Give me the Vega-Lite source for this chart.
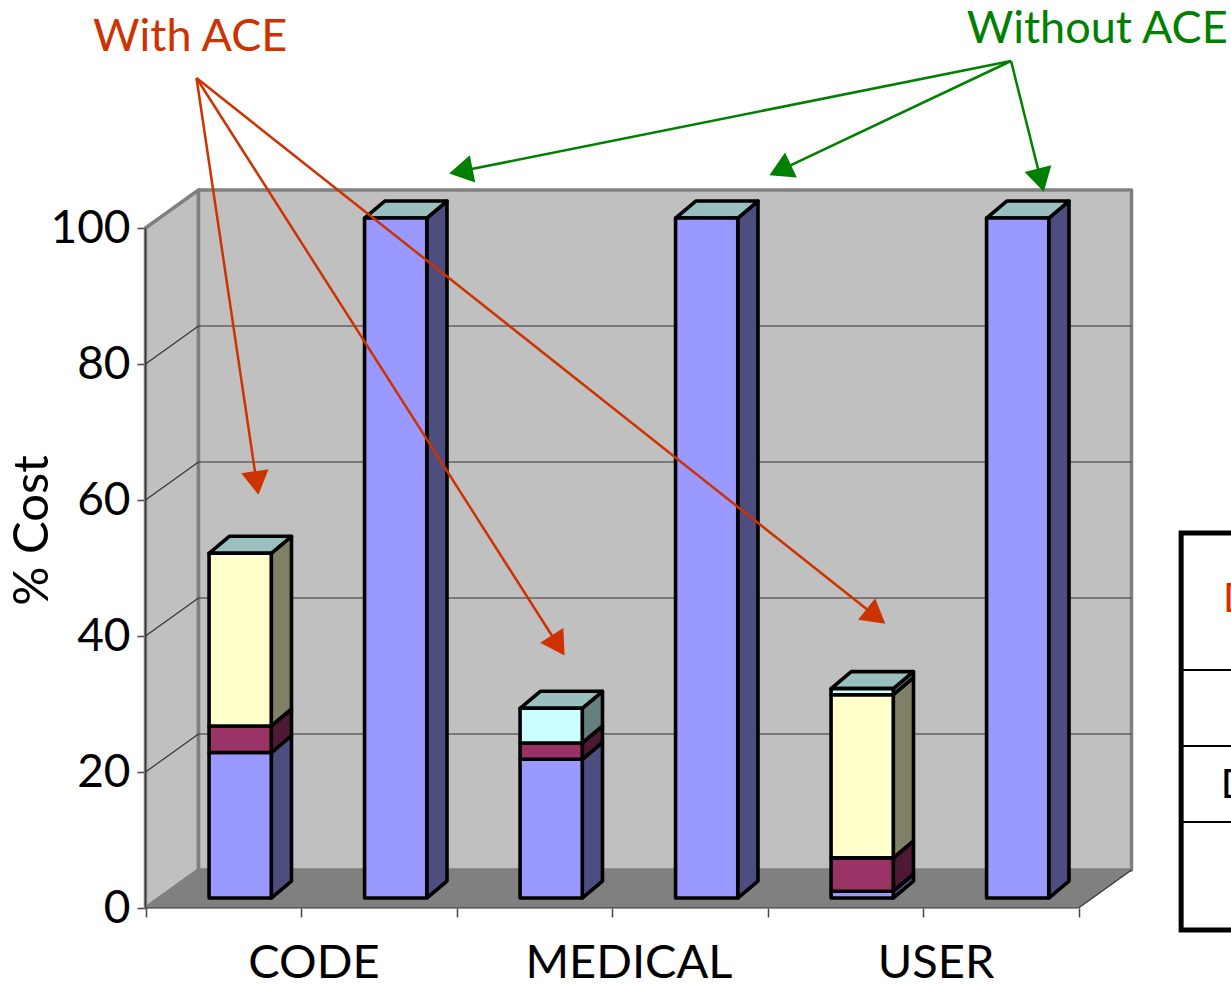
{"$schema":"https://vega.github.io/schema/vega-lite/v6.json","width":1231,"height":985,"padding":0,"autosize":{"type":"none"},"background":"white","config":{"view":{"stroke":null},"font":"Lato"},
"datasets":{
"costs":[
{"category":"CODE","scenario":"With ACE","component":"Segment 1","cost":21.4},
{"category":"CODE","scenario":"With ACE","component":"Segment 2","cost":3.9},
{"category":"CODE","scenario":"With ACE","component":"Segment 3","cost":25.4},
{"category":"CODE","scenario":"Without ACE","component":"Segment 1","cost":100},
{"category":"MEDICAL","scenario":"With ACE","component":"Segment 1","cost":20.4},
{"category":"MEDICAL","scenario":"With ACE","component":"Segment 2","cost":2.4},
{"category":"MEDICAL","scenario":"With ACE","component":"Segment 4","cost":5.1},
{"category":"MEDICAL","scenario":"Without ACE","component":"Segment 1","cost":100},
{"category":"USER","scenario":"With ACE","component":"Segment 1","cost":1},
{"category":"USER","scenario":"With ACE","component":"Segment 2","cost":4.9},
{"category":"USER","scenario":"With ACE","component":"Segment 3","cost":24},
{"category":"USER","scenario":"With ACE","component":"Segment 4","cost":0.9},
{"category":"USER","scenario":"Without ACE","component":"Segment 1","cost":100}],
"arrows":[
{"label":"With ACE","slot_from":0.328,"value_from":122.06,"slot_to":0.7235,"value_to":61.18},
{"label":"With ACE","slot_from":0.328,"value_from":122.06,"slot_to":2.685,"value_to":37.5},
{"label":"With ACE","slot_from":0.328,"value_from":122.06,"slot_to":4.743,"value_to":42.06},
{"label":"Without ACE","slot_from":5.566,"value_from":124.56,"slot_to":1.971,"value_to":108.09},
{"label":"Without ACE","slot_from":5.566,"value_from":124.56,"slot_to":4.029,"value_to":107.94},
{"label":"Without ACE","slot_from":5.566,"value_from":124.56,"slot_to":5.772,"value_to":105.74}]
},
"resolve":{"scale":{"color":"independent"},"axis":{"x":"independent","y":"independent"}},
"layer":[
{"data":{"values":[{"face":"left","slot":0,"depth":0,"low":0,"high":100},{"face":"left","slot":0,"depth":1,"low":0,"high":100},{"face":"back","slot":0,"depth":1,"low":0,"high":100},{"face":"back","slot":6,"depth":1,"low":0,"high":100}]},
"transform":[{"calculate":"datum.slot+datum.depth*0.341","as":"sx"},{"calculate":"datum.low+datum.depth*5.588","as":"sy"},{"calculate":"datum.high+datum.depth*5.588","as":"sy2"}],
"mark":{"type":"area","orient":"vertical","fill":"#C0C0C0","stroke":"#808080","strokeWidth":3.5,"strokeJoin":"round"},
"encoding":{"detail":{"field":"face"},
"x":{"field":"sx","type":"quantitative","scale":{"domain":[-0.9357,6.9807],"nice":false,"zero":false},"axis":{"values":[0,1,2,3,4,5,6],"labels":false,"domain":false,"grid":false,"title":null,"tickSize":9,"tickColor":"#444444","tickWidth":1.5,"offset":-77}},
"y":{"field":"sy","type":"quantitative","stack":null,"scale":{"domain":[-11.32,133.53],"nice":false,"zero":false},"axis":{"values":[0,20,40,60,80,100],"domain":false,"grid":false,"title":"% Cost","titleFont":"Lato","titleFontSize":49,"titleFontWeight":"normal","titleColor":"black","titleX":-114,"titleY":530,"titleAngle":270,"titleAlign":"center","titleBaseline":"middle","tickSize":9,"tickColor":"#444444","tickWidth":1.5,"offset":-146,"labelFont":"Lato","labelFontSize":46,"labelColor":"black","labelPadding":7}},
"y2":{"field":"sy2"}}},
{"data":{"values":[{"depth":0},{"depth":1}]},
"transform":[{"calculate":"datum.depth*0.341","as":"sl"},{"calculate":"6+datum.depth*0.341","as":"sr"},{"calculate":"datum.depth*5.588","as":"sy"}],
"mark":{"type":"area","orient":"horizontal","fill":"#808080"},
"encoding":{"y":{"field":"sy","type":"quantitative","stack":null,"scale":{"domain":[-11.32,133.53],"nice":false,"zero":false},"axis":null},
"x":{"field":"sl","type":"quantitative","scale":{"domain":[-0.9357,6.9807],"nice":false,"zero":false},"axis":null},"x2":{"field":"sr"}}},
{"data":{"values":[
{"slotA":0,"depthA":1,"valueA":20,"slotB":6,"depthB":1,"valueB":20},
{"slotA":0,"depthA":1,"valueA":40,"slotB":6,"depthB":1,"valueB":40},
{"slotA":0,"depthA":1,"valueA":60,"slotB":6,"depthB":1,"valueB":60},
{"slotA":0,"depthA":1,"valueA":80,"slotB":6,"depthB":1,"valueB":80},
{"slotA":0,"depthA":0,"valueA":20,"slotB":0,"depthB":1,"valueB":20},
{"slotA":0,"depthA":0,"valueA":40,"slotB":0,"depthB":1,"valueB":40},
{"slotA":0,"depthA":0,"valueA":60,"slotB":0,"depthB":1,"valueB":60},
{"slotA":0,"depthA":0,"valueA":80,"slotB":0,"depthB":1,"valueB":80},
{"slotA":0,"depthA":0,"valueA":0,"slotB":6,"depthB":0,"valueB":0},
{"slotA":6,"depthA":0,"valueA":0,"slotB":6,"depthB":1,"valueB":0},
{"slotA":0,"depthA":0,"valueA":0,"slotB":0,"depthB":0,"valueB":100}]},
"transform":[{"calculate":"datum.slotA+datum.depthA*0.341","as":"xa"},{"calculate":"datum.slotB+datum.depthB*0.341","as":"xb"},{"calculate":"datum.valueA+datum.depthA*5.588","as":"ya"},{"calculate":"datum.valueB+datum.depthB*5.588","as":"yb"}],
"mark":{"type":"rule","color":"#333333","strokeWidth":1.2},
"encoding":{"x":{"field":"xa","type":"quantitative","scale":{"domain":[-0.9357,6.9807],"nice":false,"zero":false},"axis":null},"x2":{"field":"xb"},"y":{"field":"ya","type":"quantitative","scale":{"domain":[-11.32,133.53],"nice":false,"zero":false},"axis":null},"y2":{"field":"yb"}}},
{"data":{"name":"costs"},
"transform":[{"stack":"cost","groupby":["category","scenario"],"sort":[{"field":"component","order":"ascending"}],"as":["v0","v1"]},
{"calculate":"indexof(['CODE','MEDICAL','USER'],datum.category)*2+(datum.scenario=='With ACE'?0:1)","as":"idx"},
{"calculate":"datum.idx+0.72","as":"s1"},{"calculate":"0.263","as":"front"},{"calculate":"0.71","as":"back"},{"fold":["front","back"],"as":["plane","depth"]},
{"calculate":"datum.s1+0.0888+(datum.depth-0.263)*0.2908","as":"sx"},{"calculate":"datum.v0+datum.depth*5.588","as":"sy"},{"calculate":"datum.v1+datum.depth*5.588","as":"sy2"}],
"mark":{"type":"area","orient":"vertical","stroke":"black","strokeWidth":3.6,"strokeJoin":"round"},
"encoding":{"detail":{"field":"idx"},
"color":{"field":"component","type":"nominal","legend":null,"scale":{"domain":["Segment 1","Segment 2","Segment 3","Segment 4"],"range":["#4D4D80","#4D1933","#808066","#668080"]}},
"x":{"field":"sx","type":"quantitative","scale":{"domain":[-0.9357,6.9807],"nice":false,"zero":false},"axis":null},"y":{"field":"sy","type":"quantitative","stack":null,"scale":{"domain":[-11.32,133.53],"nice":false,"zero":false},"axis":null},"y2":{"field":"sy2"}}},
{"data":{"name":"costs"},
"transform":[{"stack":"cost","groupby":["category","scenario"],"sort":[{"field":"component","order":"ascending"}],"as":["v0","v1"]},
{"joinaggregate":[{"op":"max","field":"v1","as":"top"}],"groupby":["category","scenario"]},{"filter":"datum.v1==datum.top"},
{"calculate":"indexof(['CODE','MEDICAL','USER'],datum.category)*2+(datum.scenario=='With ACE'?0:1)","as":"idx"},
{"calculate":"0.263","as":"front"},{"calculate":"0.71","as":"back"},{"fold":["front","back"],"as":["plane","depth"]},
{"calculate":"datum.idx+0.32+0.0888+(datum.depth-0.263)*0.2908","as":"sl"},{"calculate":"datum.idx+0.72+0.0888+(datum.depth-0.263)*0.2908","as":"sr"},{"calculate":"datum.top+datum.depth*5.588","as":"sy"}],
"mark":{"type":"area","orient":"horizontal","fill":"#99BFBF","stroke":"black","strokeWidth":3.6,"strokeJoin":"round"},
"encoding":{"detail":{"field":"idx"},"y":{"field":"sy","type":"quantitative","stack":null,"scale":{"domain":[-11.32,133.53],"nice":false,"zero":false},"axis":null},"x":{"field":"sl","type":"quantitative","scale":{"domain":[-0.9357,6.9807],"nice":false,"zero":false},"axis":null},"x2":{"field":"sr"}}},
{"data":{"name":"costs"},
"transform":[{"stack":"cost","groupby":["category","scenario"],"sort":[{"field":"component","order":"ascending"}],"as":["v0","v1"]},
{"calculate":"indexof(['CODE','MEDICAL','USER'],datum.category)*2+(datum.scenario=='With ACE'?0:1)","as":"idx"},
{"calculate":"datum.idx+0.32+0.263*0.3376","as":"sl"},{"calculate":"datum.idx+0.72+0.263*0.3376","as":"sr"},{"calculate":"datum.v0+0.263*5.588","as":"sy"},{"calculate":"datum.v1+0.263*5.588","as":"sy2"}],
"mark":{"type":"rect","stroke":"black","strokeWidth":3.6,"strokeJoin":"round"},
"encoding":{"color":{"field":"component","type":"nominal","legend":null,"scale":{"domain":["Segment 1","Segment 2","Segment 3","Segment 4"],"range":["#9999FF","#993366","#FFFFCC","#CCFFFF"]}},
"x":{"field":"sl","type":"quantitative","scale":{"domain":[-0.9357,6.9807],"nice":false,"zero":false},"axis":null},"x2":{"field":"sr"},"y":{"field":"sy","type":"quantitative","scale":{"domain":[-11.32,133.53],"nice":false,"zero":false},"axis":null},"y2":{"field":"sy2"}}},
{"data":{"name":"arrows"},
"transform":[{"calculate":"(datum.slot_to-datum.slot_from)*155.5","as":"dx"},{"calculate":"(datum.value_to-datum.value_from)*6.8","as":"dy"},{"calculate":"sqrt(datum.dx*datum.dx+datum.dy*datum.dy)","as":"len"},{"calculate":"datum.slot_to-(datum.dx/datum.len*11)/155.5","as":"hx"},{"calculate":"datum.value_to-(datum.dy/datum.len*11)/6.8","as":"hy"}],
"mark":{"type":"rule","strokeWidth":2.5},
"encoding":{"color":{"field":"label","type":"nominal","legend":null,"scale":{"domain":["With ACE","Without ACE"],"range":["#CC3300","#008000"]}},
"x":{"field":"slot_from","type":"quantitative","scale":{"domain":[-0.9357,6.9807],"nice":false,"zero":false},"axis":null},"x2":{"field":"hx"},"y":{"field":"value_from","type":"quantitative","scale":{"domain":[-11.32,133.53],"nice":false,"zero":false},"axis":null},"y2":{"field":"hy"}}},
{"data":{"name":"arrows"},
"transform":[{"calculate":"(datum.slot_to-datum.slot_from)*155.5","as":"dx"},{"calculate":"(datum.value_to-datum.value_from)*6.8","as":"dy"},{"calculate":"sqrt(datum.dx*datum.dx+datum.dy*datum.dy)","as":"len"},{"calculate":"datum.slot_to-(datum.dx/datum.len*13)/155.5","as":"hx"},{"calculate":"datum.value_to-(datum.dy/datum.len*13)/6.8","as":"hy"},{"calculate":"atan2(datum.dx,datum.dy)*180/PI","as":"ang"}],
"mark":{"type":"point","shape":"triangle","filled":true,"opacity":1,"size":760},
"encoding":{"angle":{"field":"ang","type":"quantitative","scale":null},"color":{"field":"label","type":"nominal","legend":null,"scale":{"domain":["With ACE","Without ACE"],"range":["#CC3300","#008000"]}},
"x":{"field":"hx","type":"quantitative","scale":{"domain":[-0.9357,6.9807],"nice":false,"zero":false},"axis":null},"y":{"field":"hy","type":"quantitative","scale":{"domain":[-11.32,133.53],"nice":false,"zero":false},"axis":null}}},
{"data":{"values":[{"label":"With ACE","slot":0.287,"value":128.1},{"label":"Without ACE","slot":6.12,"value":129.3}]},
"mark":{"type":"text","font":"Lato","fontSize":45,"align":"center","baseline":"middle"},
"encoding":{"text":{"field":"label"},"color":{"field":"label","type":"nominal","legend":null,"scale":{"domain":["With ACE","Without ACE"],"range":["#CC3300","#008000"]}},
"x":{"field":"slot","type":"quantitative","scale":{"domain":[-0.9357,6.9807],"nice":false,"zero":false},"axis":null},"y":{"field":"value","type":"quantitative","scale":{"domain":[-11.32,133.53],"nice":false,"zero":false},"axis":null}}},
{"data":{"values":[{"category":"CODE","slot":1.083,"value":-8.2},{"category":"MEDICAL","slot":3.109,"value":-8.2},{"category":"USER","slot":5.084,"value":-8.2}]},
"mark":{"type":"text","font":"Lato","fontSize":47,"align":"center","baseline":"middle","color":"black"},
"encoding":{"text":{"field":"category"},"x":{"field":"slot","type":"quantitative","scale":{"domain":[-0.9357,6.9807],"nice":false,"zero":false},"axis":null},"y":{"field":"value","type":"quantitative","scale":{"domain":[-11.32,133.53],"nice":false,"zero":false},"axis":null}}},
{"data":{"values":[{"left":6.66,"right":7.2,"top":55.15,"bottom":-3.24}]},
"mark":{"type":"rect","fill":"white","stroke":"black","strokeWidth":5},
"encoding":{"x":{"field":"left","type":"quantitative","scale":{"domain":[-0.9357,6.9807],"nice":false,"zero":false},"axis":null},"x2":{"field":"right"},"y":{"field":"top","type":"quantitative","scale":{"domain":[-11.32,133.53],"nice":false,"zero":false},"axis":null},"y2":{"field":"bottom"}}},
{"data":{"values":[{"left":6.66,"right":7.2,"line":35},{"left":6.66,"right":7.2,"line":23.82},{"left":6.66,"right":7.2,"line":12.65}]},
"mark":{"type":"rule","color":"black","strokeWidth":2},
"encoding":{"x":{"field":"left","type":"quantitative","scale":{"domain":[-0.9357,6.9807],"nice":false,"zero":false},"axis":null},"x2":{"field":"right"},"y":{"field":"line","type":"quantitative","scale":{"domain":[-11.32,133.53],"nice":false,"zero":false},"axis":null}}},
{"data":{"values":[{"cell":"header","text":"D","slot":6.93,"value":45.3},{"cell":"row","text":"D","slot":6.915,"value":17.9}]},
"mark":{"type":"text","font":"Lato","fontSize":40,"align":"left","baseline":"middle"},
"encoding":{"text":{"field":"text"},"color":{"condition":{"test":"datum.cell=='header'","value":"#CC3300"},"value":"black"},
"x":{"field":"slot","type":"quantitative","scale":{"domain":[-0.9357,6.9807],"nice":false,"zero":false},"axis":null},"y":{"field":"value","type":"quantitative","scale":{"domain":[-11.32,133.53],"nice":false,"zero":false},"axis":null}}}
]}
